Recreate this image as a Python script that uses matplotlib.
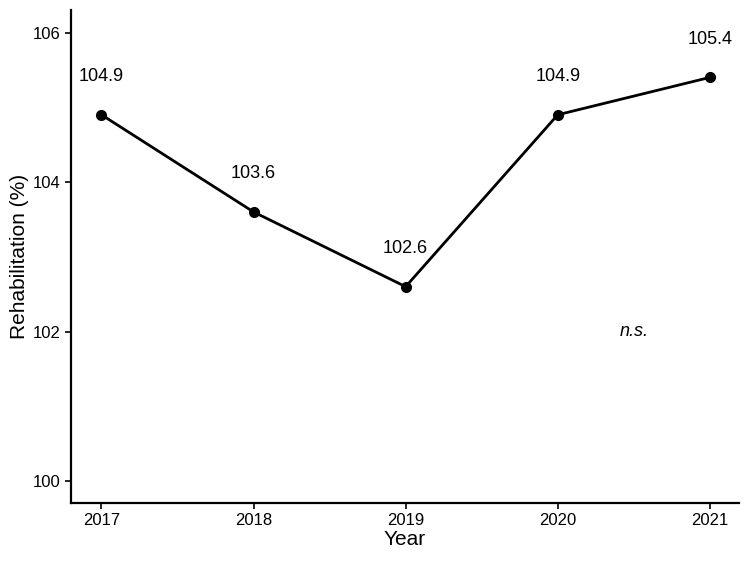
import numpy as np
import matplotlib
matplotlib.use("Agg")
import matplotlib.pyplot as plt

plt.rcParams['font.family'] = ['Liberation Sans', 'DejaVu Sans']

years = [2017, 2018, 2019, 2020, 2021]
rehab = [104.9, 103.6, 102.6, 104.9, 105.4]
labels = ["104.9", "103.6", "102.6", "104.9", "105.4"]

fig = plt.figure(figsize=(7.5, 5.63), dpi=100)
ax = fig.add_axes([0.0947, 0.1066, 0.8903, 0.8754])

ax.plot(years, rehab, color="black", linewidth=2.0, marker="o", markersize=7)
for x, y, t in zip(years, rehab, labels):
    ax.text(x, y + 0.51, t, ha="center", va="center", fontsize=13)

ax.text(2020.5, 102.0, "n.s.", style="italic", ha="center", va="center", fontsize=13)

ax.set_xlim(2016.8, 2021.19)
ax.set_ylim(99.706, 106.3)
ax.set_xticks(years)
ax.set_yticks([100, 102, 104, 106])
ax.tick_params(labelsize=12, width=1.2, length=4, colors="black")
ax.set_xlabel("Year", fontsize=15, labelpad=1)
ax.set_ylabel("Rehabilitation (%)", fontsize=15, labelpad=3)

for s in ["top", "right"]:
    ax.spines[s].set_visible(False)
for s in ["left", "bottom"]:
    ax.spines[s].set_linewidth(1.6)

fig.savefig("out.png", dpi=100)
